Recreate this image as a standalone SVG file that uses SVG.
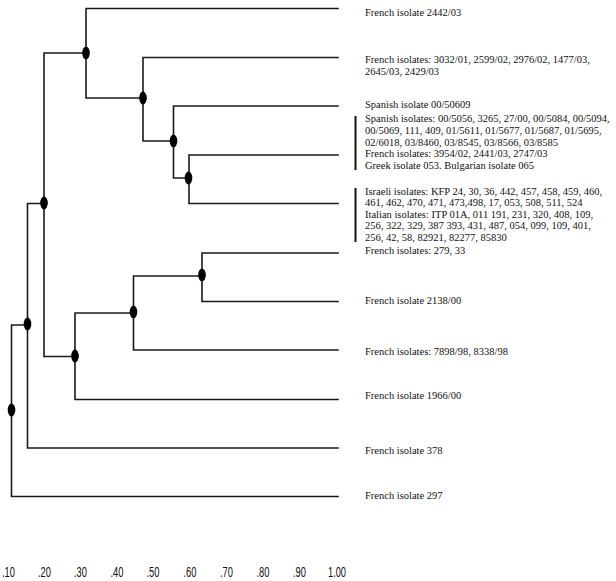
<svg xmlns="http://www.w3.org/2000/svg" width="616" height="581" viewBox="0 0 616 581">
<style>
.ln{stroke:#1a1a1a;stroke-width:1.6;fill:none;stroke-linecap:square}
.dot{fill:#000}
.lbl{font-family:"Liberation Serif","Times New Roman",serif;font-size:10.5px;fill:#111}
.ax{font-family:"Liberation Sans",Arial,sans-serif;font-size:14px;fill:#111}
.bar{fill:#111}
</style>
<rect width="616" height="581" fill="#fff"/>
<g id="connectors">
<path class="ln" d="M11.5,325 V496.5 H338 M11.5,325 H27.5"/>
<path class="ln" d="M27.5,203.5 V448 H338 M27.5,203.5 H44"/>
<path class="ln" d="M44,53 V356.5 M44,53 H86 M44,356.5 H75"/>
<path class="ln" d="M86,8.5 V98 M86,8.5 H338 M86,98 H143"/>
<path class="ln" d="M143,57.5 V141 M143,57.5 H338 M143,141 H173.5"/>
<path class="ln" d="M173.5,106 V178 M173.5,106 H338 M173.5,178 H189"/>
<path class="ln" d="M189,155 V203.5 M189,155 H338 M189,203.5 H338"/>
<path class="ln" d="M75,313 V399.5 M75,313 H133.5 M75,399.5 H338"/>
<path class="ln" d="M133.5,276 V350 M133.5,276 H202 M133.5,350 H338"/>
<path class="ln" d="M202,253 V301.5 M202,253 H338 M202,301.5 H338"/>
</g>
<g id="nodeJ"><ellipse class="dot" cx="11.5" cy="410" rx="3.8" ry="6.5"/></g>
<g id="nodeI"><ellipse class="dot" cx="27.5" cy="324" rx="3.8" ry="6.5"/></g>
<g id="nodeE"><ellipse class="dot" cx="44" cy="203" rx="3.8" ry="6.5"/></g>
<g id="nodeA"><ellipse class="dot" cx="86" cy="53" rx="3.8" ry="6.5"/></g>
<g id="nodeB"><ellipse class="dot" cx="143" cy="98" rx="3.8" ry="6.5"/></g>
<g id="nodeC"><ellipse class="dot" cx="173.5" cy="141" rx="3.8" ry="6.5"/></g>
<g id="nodeD"><ellipse class="dot" cx="188.5" cy="178" rx="3.8" ry="6.5"/></g>
<g id="nodeH"><ellipse class="dot" cx="75" cy="356" rx="3.8" ry="6.5"/></g>
<g id="nodeG"><ellipse class="dot" cx="133.5" cy="312" rx="3.8" ry="6.5"/></g>
<g id="nodeF"><ellipse class="dot" cx="202" cy="275" rx="3.8" ry="6.5"/></g>
<g id="labels">
<text class="lbl" x="365" y="16">French isolate 2442/03</text>
<text class="lbl" x="365" y="63">French isolates: 3032/01, 2599/02, 2976/02, 1477/03,</text>
<text class="lbl" x="365" y="74.5">2645/03, 2429/03</text>
<text class="lbl" x="365" y="107.5">Spanish isolate 00/50609</text>
<rect class="bar" x="354.5" y="116" width="2" height="54"/>
<text class="lbl" x="365" y="122">Spanish isolates: 00/5056, 3265, 27/00, 00/5084, 00/5094,</text>
<text class="lbl" x="365" y="133.8">00/5069, 111, 409, 01/5611, 01/5677, 01/5687, 01/5695,</text>
<text class="lbl" x="365" y="145.6">02/6018, 03/8460, 03/8545, 03/8566, 03/8585</text>
<text class="lbl" x="365" y="157.4">French isolates: 3954/02, 2441/03, 2747/03</text>
<text class="lbl" x="365" y="169.2">Greek isolate 053.  Bulgarian isolate 065</text>
<rect class="bar" x="354.5" y="188" width="2" height="54"/>
<text class="lbl" x="365" y="194.5">Israeli isolates: KFP 24, 30, 36, 442, 457, 458, 459, 460,</text>
<text class="lbl" x="365" y="206">461, 462, 470, 471, 473,498, 17, 053, 508, 511, 524</text>
<text class="lbl" x="365" y="217.5">Italian isolates: ITP 01A, 011 191, 231, 320, 408, 109,</text>
<text class="lbl" x="365" y="229">256, 322, 329, 387 393, 431, 487, 054, 099, 109, 401,</text>
<text class="lbl" x="365" y="240.5">256,  42, 58, 82921, 82277, 85830</text>
<text class="lbl" x="365" y="254">French isolates: 279, 33</text>
<text class="lbl" x="365" y="304">French isolate 2138/00</text>
<text class="lbl" x="365" y="355">French isolates: 7898/98, 8338/98</text>
<text class="lbl" x="365" y="398.5">French isolate 1966/00</text>
<text class="lbl" x="365" y="454">French isolate 378</text>
<text class="lbl" x="365" y="498.5">French isolate 297</text>
</g>
<g id="axis">
<text class="ax" x="2" y="577" textLength="13" lengthAdjust="spacingAndGlyphs">.10</text>
<text class="ax" x="38" y="577" textLength="13" lengthAdjust="spacingAndGlyphs">.20</text>
<text class="ax" x="74" y="577" textLength="13" lengthAdjust="spacingAndGlyphs">.30</text>
<text class="ax" x="110.5" y="577" textLength="13" lengthAdjust="spacingAndGlyphs">.40</text>
<text class="ax" x="146.5" y="577" textLength="13" lengthAdjust="spacingAndGlyphs">.50</text>
<text class="ax" x="183.5" y="577" textLength="13" lengthAdjust="spacingAndGlyphs">.60</text>
<text class="ax" x="220" y="577" textLength="13" lengthAdjust="spacingAndGlyphs">.70</text>
<text class="ax" x="256.5" y="577" textLength="13" lengthAdjust="spacingAndGlyphs">.80</text>
<text class="ax" x="293" y="577" textLength="13" lengthAdjust="spacingAndGlyphs">.90</text>
<text class="ax" x="328" y="577" textLength="18" lengthAdjust="spacingAndGlyphs">1.00</text>
</g>
</svg>
